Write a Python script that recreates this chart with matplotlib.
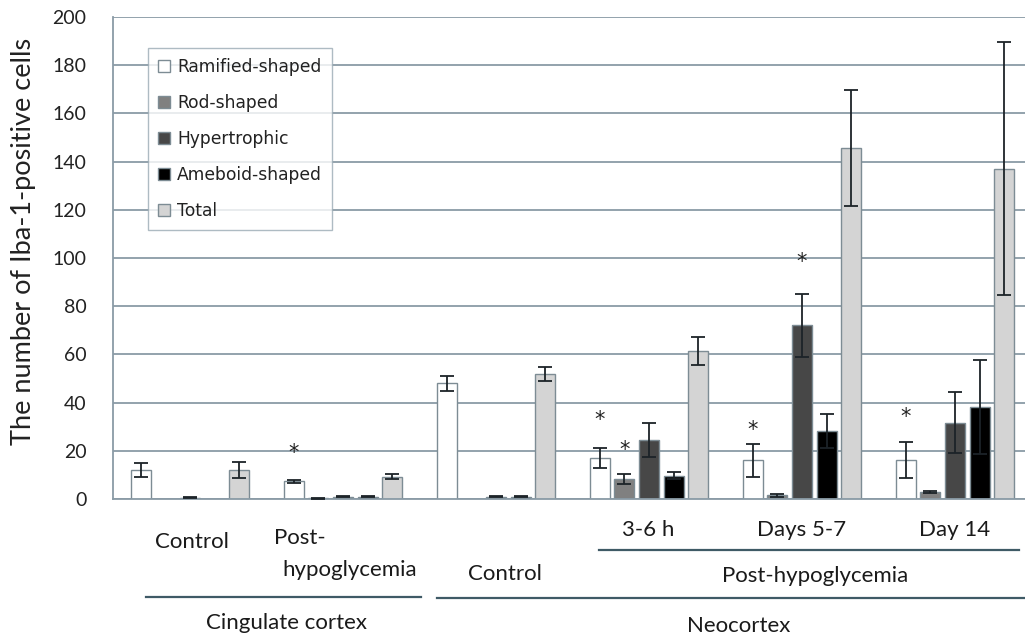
import matplotlib
matplotlib.use("Agg")
import matplotlib.pyplot as plt
from matplotlib.lines import Line2D
import numpy as np

nan = float("nan")

# bar series (6 groups: cingulate control, cingulate post, neocortex control, 3-6 h, days 5-7, day 14)
series = ["Ramified-shaped", "Rod-shaped", "Hypertrophic", "Ameboid-shaped", "Total"]
colors = ["#ffffff", "#808080", "#474747", "#000000", "#d4d4d4"]

ramified = [12, 7.3, 48, 17, 16, 16.3]
ramified_err = [2.8, 0.6, 3, 4, 7, 7.5]
rod = [nan, 0.3, nan, 8.3, 1.5, 2.8]
rod_err = [nan, 0.2, nan, 2, 0.5, 0.5]
hyper = [0.5, 1, 1, 24.6, 72, 31.7]
hyper_err = [0.2, 0.3, 0.3, 7, 13, 12.5]
ameboid = [nan, 1, 1, 9.7, 28.3, 38.2]
ameboid_err = [nan, 0.3, 0.3, 1.6, 7, 19.5]
total = [12, 9.2, 51.8, 61.4, 145.6, 137]
total_err = [3.2, 1, 3, 6, 24, 52.5]

# significance marks: (group, series index, y value)
stars = [(1, 0, 19), (3, 0, 32.8), (3, 1, 20.3), (4, 0, 28.6), (4, 2, 98.3), (5, 0, 34)]

means = [ramified, rod, hyper, ameboid, total]
errs = [ramified_err, rod_err, hyper_err, ameboid_err, total_err]

W, H = 1025, 640
fig = plt.figure(figsize=(W / 100, H / 100), dpi=100)
ax = fig.add_axes([113 / W, 1 - 499 / H, (W - 113) / W, (499 - 17) / H])

step = 0.161
width = 0.131
grid_c = "#8a9ba6"
x = np.arange(6)

ax.set_axisbelow(True)
ax.yaxis.grid(True, color=grid_c, lw=1.3)
for j in range(5):
    xs = x + (j - 2) * step
    ax.bar(xs, means[j], width=width, color=colors[j], edgecolor="#7d8c94",
           linewidth=1.0, label=series[j], zorder=2)
    ax.errorbar(xs, means[j], yerr=errs[j], fmt="none", ecolor="#1c2328",
                elinewidth=1.3, capsize=5, capthick=1.3, zorder=3)

for g, j, yv in stars:
    ax.text(g + (j - 2) * step, yv, "*", ha="center", va="center",
            fontsize=15, color="#222222", zorder=4)

ax.set_xlim(-0.503, 5.457)
ax.set_ylim(0, 200)
ax.set_yticks(range(0, 201, 20))
ax.set_xticks([])
for lab in ax.get_yticklabels():
    lab.set_fontfamily("Lato")
    lab.set_fontsize(14)
ax.tick_params(axis="y", length=0, pad=19, colors="#222222")
for s in ["top", "right"]:
    ax.spines[s].set_visible(False)
ax.spines["left"].set_color(grid_c)
ax.spines["bottom"].set_color(grid_c)
ax.spines["left"].set_linewidth(1.3)
ax.spines["bottom"].set_linewidth(1.3)

ax.set_ylabel("The number of Iba-1-positive cells", fontfamily="Lato",
              fontsize=19.5, color="#222222")
ax.yaxis.set_label_coords(-0.084, 0.535)

leg = ax.legend(loc="upper left", bbox_to_anchor=((148 - 113) / 912, (499 - 48) / 482),
                borderaxespad=0, frameon=True, fancybox=False, fontsize=12.3,
                handlelength=0.7, handleheight=0.7, labelspacing=1.05,
                borderpad=0.6, handletextpad=0.4)
leg.get_frame().set_edgecolor("#9aaab4")
leg.get_frame().set_linewidth(1.0)
for t in leg.get_texts():
    t.set_color("#222222")


def ftext(px, py, s, size=16):
    fig.text(px / W, 1 - py / H, s, ha="center", va="center",
             fontfamily="Lato", fontsize=size, color="#1a1a1a")


def fline(x0, x1, py):
    fig.add_artist(Line2D([x0 / W, x1 / W], [1 - py / H, 1 - py / H],
                          color="#3f5a66", lw=1.6))


ftext(192, 542, "Control")
ftext(300, 538, "Post-")
ftext(350, 570, "hypoglycemia")
fline(146, 421, 597)
ftext(287, 623, "Cingulate cortex")

ftext(505, 574, "Control")
ftext(648, 530, "3-6 h")
ftext(802, 530, "Days 5-7")
ftext(955, 530, "Day 14")
fline(599, 1019, 550)
ftext(815, 576, "Post-hypoglycemia")
fline(437, 1025, 598)
ftext(739, 626, "Neocortex")

fig.savefig("out.png", dpi=100)
